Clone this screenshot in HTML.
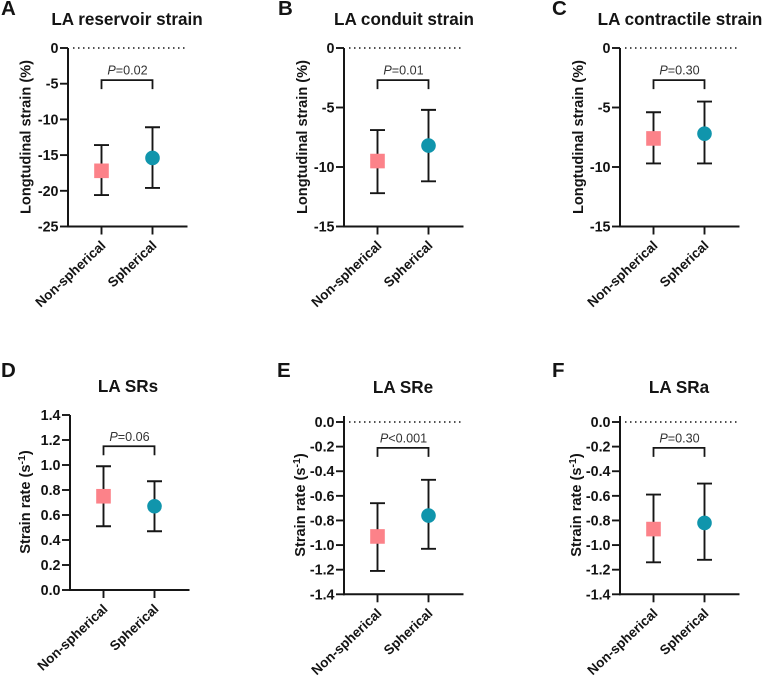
<!DOCTYPE html>
<html lang="en">
<head>
<meta charset="utf-8">
<title>Left atrial strain panels</title>
<style>
  html, body { margin: 0; padding: 0; background: #fff; }
  #figure { display: block; width: 762px; height: 677px; filter: blur(0.35px); }
  text { font-family: "Liberation Sans", Arial, sans-serif; fill: #141414; }
  .tick { font-size: 14.3px; font-weight: bold; }
  .title { font-size: 17.1px; font-weight: bold; }
  .ytitle { font-size: 14.6px; font-weight: bold; }
  .cat { font-size: 13.5px; font-weight: bold; }
  .letter { font-size: 20.5px; font-weight: bold; }
  .pval { font-size: 12.6px; fill: #333; font-weight: normal; }
</style>
</head>
<body>
<svg id="figure" xmlns="http://www.w3.org/2000/svg" width="762" height="677" viewBox="0 0 762 677"></svg>
<script>
// ---- chart data ----
const categories = ['Non-spherical', 'Spherical'];

const panelIds = ['a', 'b', 'c', 'd', 'e', 'f'];
const panelLetters = ['A', 'B', 'C', 'D', 'E', 'F'];
const panelTitles = ['LA reservoir strain', 'LA conduit strain', 'LA contractile strain', 'LA SRs', 'LA SRe', 'LA SRa'];
const yAxisTitles = ['Longtudinal strain (%)', 'Longtudinal strain (%)', 'Longtudinal strain (%)', 'Strain rate', 'Strain rate', 'Strain rate'];

const tickValues = [
  [0, -5, -10, -15, -20, -25],
  [0, -5, -10, -15],
  [0, -5, -10, -15],
  [1.4, 1.2, 1.0, 0.8, 0.6, 0.4, 0.2, 0.0],
  [0.0, -0.2, -0.4, -0.6, -0.8, -1.0, -1.2, -1.4],
  [0.0, -0.2, -0.4, -0.6, -0.8, -1.0, -1.2, -1.4]
];
const tickDecimals = [0, 0, 0, 1, 1, 1];

const nonSphericalMean = [-17.2, -9.5, -7.6, 0.75, -0.93, -0.87];
const nonSphericalUpper = [-13.6, -6.9, -5.4, 0.99, -0.66, -0.59];
const nonSphericalLower = [-20.6, -12.2, -9.7, 0.51, -1.21, -1.14];

const sphericalMean = [-15.4, -8.2, -7.2, 0.67, -0.76, -0.82];
const sphericalUpper = [-11.1, -5.2, -4.5, 0.87, -0.47, -0.50];
const sphericalLower = [-19.6, -11.2, -9.7, 0.47, -1.03, -1.12];

const pRelation = ['=', '=', '=', '=', '<', '='];
const pValues = ['0.02', '0.01', '0.30', '0.06', '0.001', '0.30'];
const bracketLevels = [-4.5, -2.7, -2.7, 1.15, -0.21, -0.21];

// ---- layout (pixels) ----
const layoutAxisX = [68, 344, 620, 70, 344, 620];
const layoutTop = [48, 48, 48, 415, 422, 422];
const layoutBottom = [226.5, 226.5, 226.5, 590, 594.3, 594.3];
const layoutTitleX = [127, 404, 680, 128, 403, 679];
const layoutTitleY = [25, 25, 25, 392, 393, 393];
const layoutLetterX = [1, 278, 552, 1, 277, 552];
const layoutLetterY = [15, 15, 15, 377, 377, 377];
const layoutYTitleX = [30.5, 307, 583, 30, 305, 581];
const layoutYTitleY = [137, 137, 137, 502, 505, 505];

const svg = document.getElementById('figure');
const NS = 'http://www.w3.org/2000/svg';
const INK = '#161616';

function make(tag, attrs, parent) {
  const node = document.createElementNS(NS, tag);
  for (const key in attrs) node.setAttribute(key, attrs[key]);
  parent.appendChild(node);
  return node;
}

function drawPanel(i) {
  const id = panelIds[i];
  const axisX = layoutAxisX[i];
  const top = layoutTop[i];
  const bottom = layoutBottom[i];
  const ticks = tickValues[i];
  const maxV = Math.max.apply(null, ticks);
  const minV = Math.min.apply(null, ticks);
  const yScale = function (v) { return top + (maxV - v) / (maxV - minV) * (bottom - top); };
  const xScale = function (c) { return axisX + 33.5 + c * 51; };
  const rightX = axisX + 119.5;

  const g = make('g', {}, svg);
  
  

  const letter = make('text', { x: layoutLetterX[i], y: layoutLetterY[i], class: 'letter' }, g);
  letter.textContent = panelLetters[i];
  
  

  const title = make('text', { x: layoutTitleX[i], y: layoutTitleY[i], class: 'title', 'text-anchor': 'middle' }, g);
  title.textContent = panelTitles[i];
  
  

  const yTitleX = layoutYTitleX[i];
  const yTitleY = layoutYTitleY[i];
  const yTitle = make('text', {
    x: yTitleX, y: yTitleY, class: 'ytitle', 'text-anchor': 'middle',
    transform: 'rotate(-90 ' + yTitleX + ' ' + yTitleY + ')'
  }, g);
  
  
  yTitle.appendChild(document.createTextNode(yAxisTitles[i]));
  if (yAxisTitles[i] === 'Strain rate') {
    yTitle.appendChild(document.createTextNode(' (s'));
    const sup = make('tspan', { dy: '-5', 'font-size': '10.5px' }, yTitle);
    sup.textContent = '-1';
    
    
    const close = make('tspan', { dy: '5' }, yTitle);
    close.textContent = ')';
    
    
  }

  // dotted zero line where zero sits at the top of a negative axis
  if (maxV === 0) {
    const zero = make('line', {
      x1: axisX + 5, x2: rightX, y1: yScale(0), y2: yScale(0),
      stroke: INK, 'stroke-width': 1.5, 'stroke-dasharray': '1.5 3.5'
    }, g);
    
    
  }

  // y axis
  const yAxisTop = maxV === 0 && i > 2 ? top - 6 : top;
  const yAxis = make('line', { x1: axisX, x2: axisX, y1: yAxisTop, y2: bottom + 1, stroke: INK, 'stroke-width': 2 }, g);
  
  

  ticks.forEach(function (v, t) {
    const y = yScale(v);
    const mark = make('line', { x1: axisX - 8, x2: axisX, y1: y, y2: y, stroke: INK, 'stroke-width': 1.9 }, g);
    
    
    const label = make('text', { x: axisX - 9.5, y: y + 5, class: 'tick', 'text-anchor': 'end' }, g);
    label.textContent = v.toFixed(tickDecimals[i]);
    
    
  });

  // x axis
  const xAxis = make('line', { x1: axisX - 1, x2: rightX, y1: bottom, y2: bottom, stroke: INK, 'stroke-width': 2 }, g);
  
  

  categories.forEach(function (name, c) {
    const x = xScale(c);
    const mark = make('line', { x1: x, x2: x, y1: bottom, y2: bottom + 8, stroke: INK, 'stroke-width': 1.9 }, g);
    
    
    const lx = x + 5;
    const ly = bottom + 20;
    const label = make('text', {
      x: lx, y: ly, class: 'cat', 'text-anchor': 'end',
      transform: 'rotate(-43 ' + lx + ' ' + ly + ')'
    }, g);
    label.textContent = name;
    
    
  });

  // significance bracket
  const bx0 = xScale(0);
  const bx1 = xScale(1);
  const by = yScale(bracketLevels[i]);
  const bracket = make('path', {
    d: 'M' + bx0 + ' ' + (by + 9) + 'V' + by + 'H' + bx1 + 'V' + (by + 9),
    fill: 'none', stroke: INK, 'stroke-width': 1.8
  }, g);
  
  

  const pText = make('text', { x: (bx0 + bx1) / 2 + 0.5, y: by - 5.5, class: 'pval', 'text-anchor': 'middle' }, g);
  
  
  const pItalic = make('tspan', { 'font-style': 'italic' }, pText);
  pItalic.textContent = 'P';
  
  
  pText.appendChild(document.createTextNode(pRelation[i] + pValues[i]));

  // error bars
  const uppers = [nonSphericalUpper[i], sphericalUpper[i]];
  const lowers = [nonSphericalLower[i], sphericalLower[i]];
  categories.forEach(function (name, c) {
    const x = xScale(c);
    const yU = yScale(uppers[c]);
    const yL = yScale(lowers[c]);
    const bar = make('path', {
      d: 'M' + (x - 7.5) + ' ' + yU + 'H' + (x + 7.5) + 'M' + x + ' ' + yU + 'V' + yL + 'M' + (x - 7.5) + ' ' + yL + 'H' + (x + 7.5),
      fill: 'none', stroke: INK, 'stroke-width': 1.9
    }, g);
    
    
  });

  // markers
  const sy = yScale(nonSphericalMean[i]);
  const square = make('rect', { x: xScale(0) - 7.3, y: sy - 7.3, width: 14.6, height: 14.6, fill: '#fc8289' }, g);
  
  

  const cy = yScale(sphericalMean[i]);
  const dot = make('circle', { cx: xScale(1), cy: cy, r: 7.3, fill: '#1095ac' }, g);
  
  
}

panelIds.forEach(function (id, i) { drawPanel(i); });
</script>
</body>
</html>
